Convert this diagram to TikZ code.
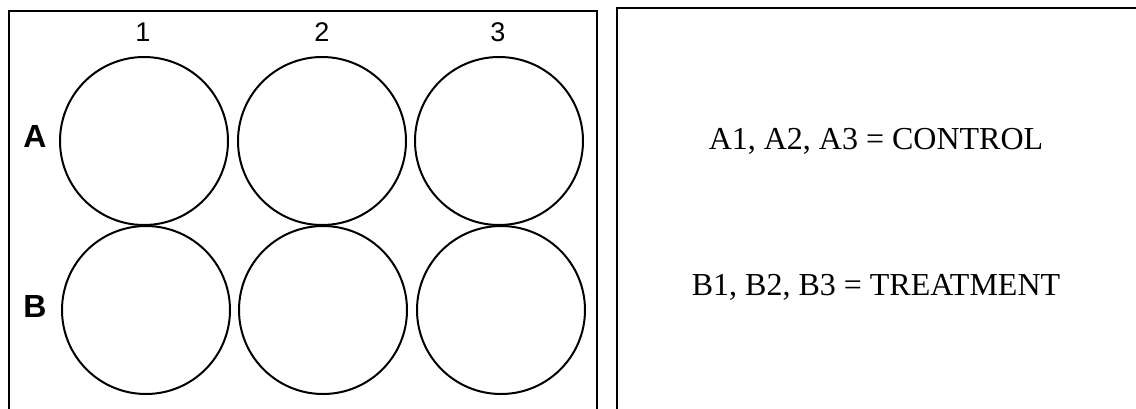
\documentclass[tikz,border=0pt]{standalone}
\usepackage{fontspec}
\setmainfont{Liberation Serif}
\newfontfamily\arialfont{Liberation Sans}
\begin{document}
\begin{tikzpicture}[x=1pt,y=-1pt,
  frame/.style={draw=black,line width=2.4pt},
  well/.style={draw=black,line width=2pt,circle,minimum size=168pt,inner sep=0pt},
  rowlab/.style={font=\arialfont\bfseries\fontsize{32}{34}\selectfont,anchor=base,inner sep=0pt},
  collab/.style={font=\arialfont\fontsize{27}{29}\selectfont,anchor=base,inner sep=0pt},
  legend/.style={font=\fontsize{32}{34}\selectfont,anchor=base,inner sep=0pt}]
\useasboundingbox (0,0) rectangle (1136,408);
\clip (0,0) rectangle (1136,408);
\fill[white] (0,0) rectangle (1136,408);
\draw[frame] (9,11) rectangle (597,430);
\draw[frame] (617,8) rectangle (1160,430);
\node[collab] (c1) at (143,41) {1};
\node[collab] (c2) at (322,41) {2};
\node[collab] (c3) at (498,41) {3};
\node[rowlab] (ra) at (35,147) {A};
\node[rowlab] (rb) at (35,317) {B};
\node[well] (a1) at (144,141) {};
\node[well] (a2) at (322,141) {};
\node[well] (a3) at (499,141) {};
\node[well] (b1) at (146,310) {};
\node[well] (b2) at (323,310) {};
\node[well] (b3) at (501,310) {};
\node[legend] (ctl) at (876,149) {A1, A2, A3 = CONTROL};
\node[legend] (trt) at (876,295) {B1, B2, B3 = TREATMENT};
\end{tikzpicture}
\end{document}
